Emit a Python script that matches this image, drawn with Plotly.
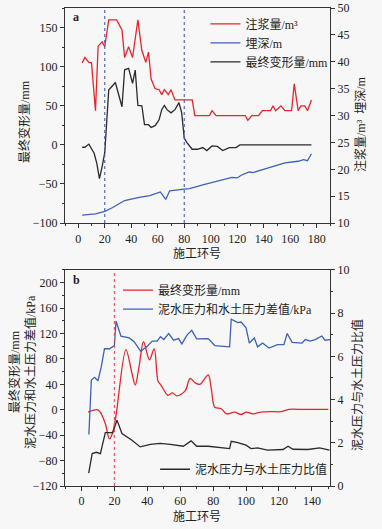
import plotly.graph_objects as go

# ---------------- Panel a data ----------------
grout_ring = [3, 5, 8, 10, 13, 15, 18, 20, 23, 29, 33, 35, 38, 41, 45, 48, 51, 53, 55, 58, 61, 63, 65, 68, 70, 73,
              86, 88, 99, 101, 104, 126, 128, 131, 136, 139, 145, 147, 149, 153, 156, 161, 163, 166, 168, 171, 173, 176]
grout_val = [39.8, 40.8, 39.9, 39.8, 30.9, 42.9, 43.7, 42.8, 47.8, 47.8, 45.9, 40.8, 42.8, 40.8, 47.8, 42.1, 39.9,
             41.8, 36.8, 35.0, 34.8, 33.9, 34.8, 33.9, 34.8, 32.9,
             32.9, 30.0, 30.0, 30.9, 30.0, 30.0, 29.1, 30.0, 30.0, 30.9, 30.9, 31.8, 30.9, 31.8, 30.9, 30.9, 35.9,
             30.9, 31.8, 31.8, 30.9, 32.9]

depth_ring = [3, 13, 20, 26, 35, 40, 46, 54, 59, 62, 66, 69, 80, 84, 94, 104, 116, 120, 123, 129, 132, 141, 149,
              156, 166, 170, 173, 176]
depth_val = [11.5, 11.7, 12.2, 12.9, 14.2, 14.5, 14.8, 15.1, 15.5, 15.8, 14.4, 16.0, 16.3, 16.4, 17.1, 17.7, 18.5,
             18.4, 18.9, 19.5, 19.4, 20.1, 20.7, 21.2, 21.5, 21.8, 21.6, 22.9]

defa_ring = [3, 5, 8, 12, 14, 16, 18, 20, 23, 28, 33, 35, 38, 41, 43, 45, 48, 50, 53, 55, 58, 61, 63, 65, 67, 70,
             73, 76, 78, 80, 82, 86, 90, 94, 97, 101, 105, 109, 114, 119, 122, 130, 140, 150, 160, 170, 176]
defa_val = [-3, -3, 1, -10.7, -23.7, -43, -28, -10, 70, 79.7, 48.7, 96, 97.8, 78.8, 95.6, 50.4, 50, 25.8, 25.8,
            22.4, 24.5, 32, 45, 50.4, 45, 41, 45, 54, 41.7, 8.6, 3, -5.6, -5.6, -3.4, -7.3, -1.3, -2, -7.3, -3.5,
            -3.5, 0, 0, 0, 0, -0.5, 0, 0]

# ---------------- Panel b data ----------------
diff_ring = [4.5, 6, 8, 10, 12, 14, 17, 20, 21, 24, 29, 32, 36, 40, 43, 46, 48, 50, 53, 56, 59, 61, 64, 67, 70, 77,
             81, 90, 91, 95, 97, 100, 102, 105, 107, 110, 114, 119, 123, 125, 128, 134, 136, 139, 142, 146, 148, 151]
diff_val = [-39, 46.7, 51, 45.6, 67, 96, 96, 101, 139.7, 115.8, 113, 107, 92, 100, 108, 108, 115, 110.5, 120, 109.4,
            112, 103.6, 117, 125, 111.6, 112, 101, 99, 142.4, 137, 138, 129, 105, 113, 99, 105, 97, 102.5, 102.5,
            120, 106, 105, 110.5, 108, 110.5, 116, 109.4, 110.5]

defb_ring = [4, 7, 9.5, 11.5, 14.5, 17, 19, 21, 27, 30.7, 32.7, 35, 37.7, 41.3, 44.2, 46.5, 48, 52.5, 55.3, 58, 63,
             66, 69, 72, 77, 79, 81, 85, 88, 93, 97, 100, 104, 109, 115, 121, 126, 135, 150]
defb_val = [-3.8, -1, 0, -4, -22, -46, -35.7, -9, 94.6, 57, 38.8, 68, 107, 78.6, 95.7, 45, 40, 22.8, 26.5, 21.7,
            29.7, 49.4, 42.4, 40, 54.7, 30.8, 4, 1.6, -6.4, -3.8, -7.5, -3.8, -6.4, -3.8, -3, -3, 0.5, 0.5, 0.5]

ratio_ring = [4.4, 6.5, 9, 11.5, 14.5, 19, 21.6, 24.6, 30.7, 35.7, 41.8, 47.8, 53.9, 61.9, 66.6, 70, 77, 90, 91, 95,
              100, 103, 107, 113, 122.5, 125.5, 128.5, 137.6, 144.7, 150.7]
ratio_val = [0.6, 1.5, 1.56, 1.5, 2.47, 2.47, 3.05, 2.43, 2.12, 1.81, 1.93, 1.97, 1.93, 1.84, 2.09, 1.84, 1.84, 1.73,
             2.07, 2.01, 1.89, 1.73, 1.76, 1.66, 1.69, 1.84, 1.7, 1.69, 1.76, 1.66]

RED = "#e5262a"
BLUE = "#3b62b8"
BLACK = "#2a2a2a"
SERIF = "Liberation Serif, Noto Sans CJK SC"

fig = go.Figure()
fig.add_trace(go.Scatter(x=grout_ring, y=grout_val, mode="lines", name="注浆量/m³",
                         line=dict(color=RED, width=1.3), xaxis="x", yaxis="y2", legend="legend"))
fig.add_trace(go.Scatter(x=depth_ring, y=depth_val, mode="lines", name="埋深/m",
                         line=dict(color=BLUE, width=1.3), xaxis="x", yaxis="y2", legend="legend"))
fig.add_trace(go.Scatter(x=defa_ring, y=defa_val, mode="lines", name="最终变形量/mm",
                         line=dict(color=BLACK, width=1.3), xaxis="x", yaxis="y", legend="legend"))

fig.add_trace(go.Scatter(x=defb_ring, y=defb_val, mode="lines", name="最终变形量/mm",
                         line=dict(color=RED, width=1.3, shape="spline", smoothing=0.9),
                         xaxis="x2", yaxis="y3", legend="legend2"))
fig.add_trace(go.Scatter(x=diff_ring, y=diff_val, mode="lines", name="泥水压力和水土压力差值/kPa",
                         line=dict(color=BLUE, width=1.3), xaxis="x2", yaxis="y3", legend="legend2"))
fig.add_trace(go.Scatter(x=ratio_ring, y=ratio_val, mode="lines", name="泥水压力与水土压力比值",
                         line=dict(color=BLACK, width=1.3), xaxis="x2", yaxis="y4", legend="legend3"))

tickfont = dict(family=SERIF, size=12, color="#222")
base = dict(showline=True, linecolor="#333", linewidth=1, ticks="outside", ticklen=4,
            tickcolor="#333", showgrid=False, zeroline=False, tickfont=tickfont, automargin=False)

def minor(d):
    return dict(ticks="outside", ticklen=2, dtick=d, tickcolor="#333")

fig.update_layout(
    width=382, height=529,
    margin=dict(l=65, r=52, t=8, b=43, autoexpand=False),
    paper_bgcolor="#f7f7f7", plot_bgcolor="#f7f7f7",
    xaxis=dict(domain=[0, 1], anchor="y", range=[-10, 190], tickvals=list(range(0, 181, 20)),
               mirror=True, minor=minor(10), **base),
    yaxis=dict(domain=[0.55, 1], anchor="x", range=[-100, 175], tickvals=[-100, -50, 0, 50, 100, 150],
               minor=minor(25), **base),
    yaxis2=dict(overlaying="y", side="right", anchor="x", range=[10, 50], tickvals=list(range(10, 51, 5)),
                **base),
    xaxis2=dict(domain=[0, 1], anchor="y3", range=[-10, 151], tickvals=list(range(0, 141, 20)),
                mirror=True, minor=minor(10), **base),
    yaxis3=dict(domain=[0, 0.452], anchor="x2", range=[-120, 220], tickvals=list(range(-120, 201, 40)),
                minor=minor(20), **base),
    yaxis4=dict(overlaying="y3", side="right", anchor="x2", range=[0, 10], tickvals=list(range(0, 11, 2)),
                minor=minor(1), **base),
    legend=dict(x=0.53, y=0.997, xanchor="left", yanchor="top", bgcolor="rgba(0,0,0,0)",
                font=dict(family=SERIF, size=12, color="#222"), itemwidth=30, tracegroupgap=0),
    legend2=dict(x=0.2, y=0.44, xanchor="left", yanchor="top", bgcolor="rgba(0,0,0,0)",
                 font=dict(family=SERIF, size=12, color="#222"), itemwidth=30),
    legend3=dict(x=0.34, y=0.035, xanchor="left", yanchor="middle", bgcolor="rgba(0,0,0,0)",
                 font=dict(family=SERIF, size=12, color="#222"), itemwidth=30),
    showlegend=True,
)

# reference lines
for xv in [20, 80]:
    fig.add_shape(type="line", xref="x", yref="y domain", x0=xv, x1=xv, y0=0, y1=1,
                  line=dict(color=BLUE, width=1.1, dash="3px,3px"))
fig.add_shape(type="line", xref="x2", yref="y3 domain", x0=20, x1=20, y0=0, y1=1,
              line=dict(color="#ee4a5a", width=1.1, dash="dot"))

H = 478.0
def py(pix):
    return 1 - (pix - 8) / H
def px(pix):
    return (pix - 65) / 265.0

def ann(text, x, y, angle=0, size=12, bold=False):
    fig.add_annotation(text=("<b>%s</b>" % text) if bold else text, x=px(x), y=py(y), xref="paper", yref="paper",
                       showarrow=False, textangle=angle, font=dict(family=SERIF, size=size, color="#222"),
                       xanchor="center", yanchor="middle")

ann("a", 76, 17, bold=True)
ann("b", 76, 280, bold=True)
ann("施工环号", 197, 254)
ann("施工环号", 197, 517)
ann("最终变形量/mm", 24, 122, angle=-90)
ann("注浆量/m³  埋深/m", 361, 124, angle=-90)
ann("最终变形量/mm", 14, 372, angle=-90)
ann("泥水压力和水土压力差值/kPa", 30, 372, angle=-90)
ann("泥水压力与水土压力比值", 357, 385, angle=-90)

fig.write_html("out.html", config={"displayModeBar": False},
               post_script="document.body.style.margin='0';document.body.style.overflow='hidden';")
